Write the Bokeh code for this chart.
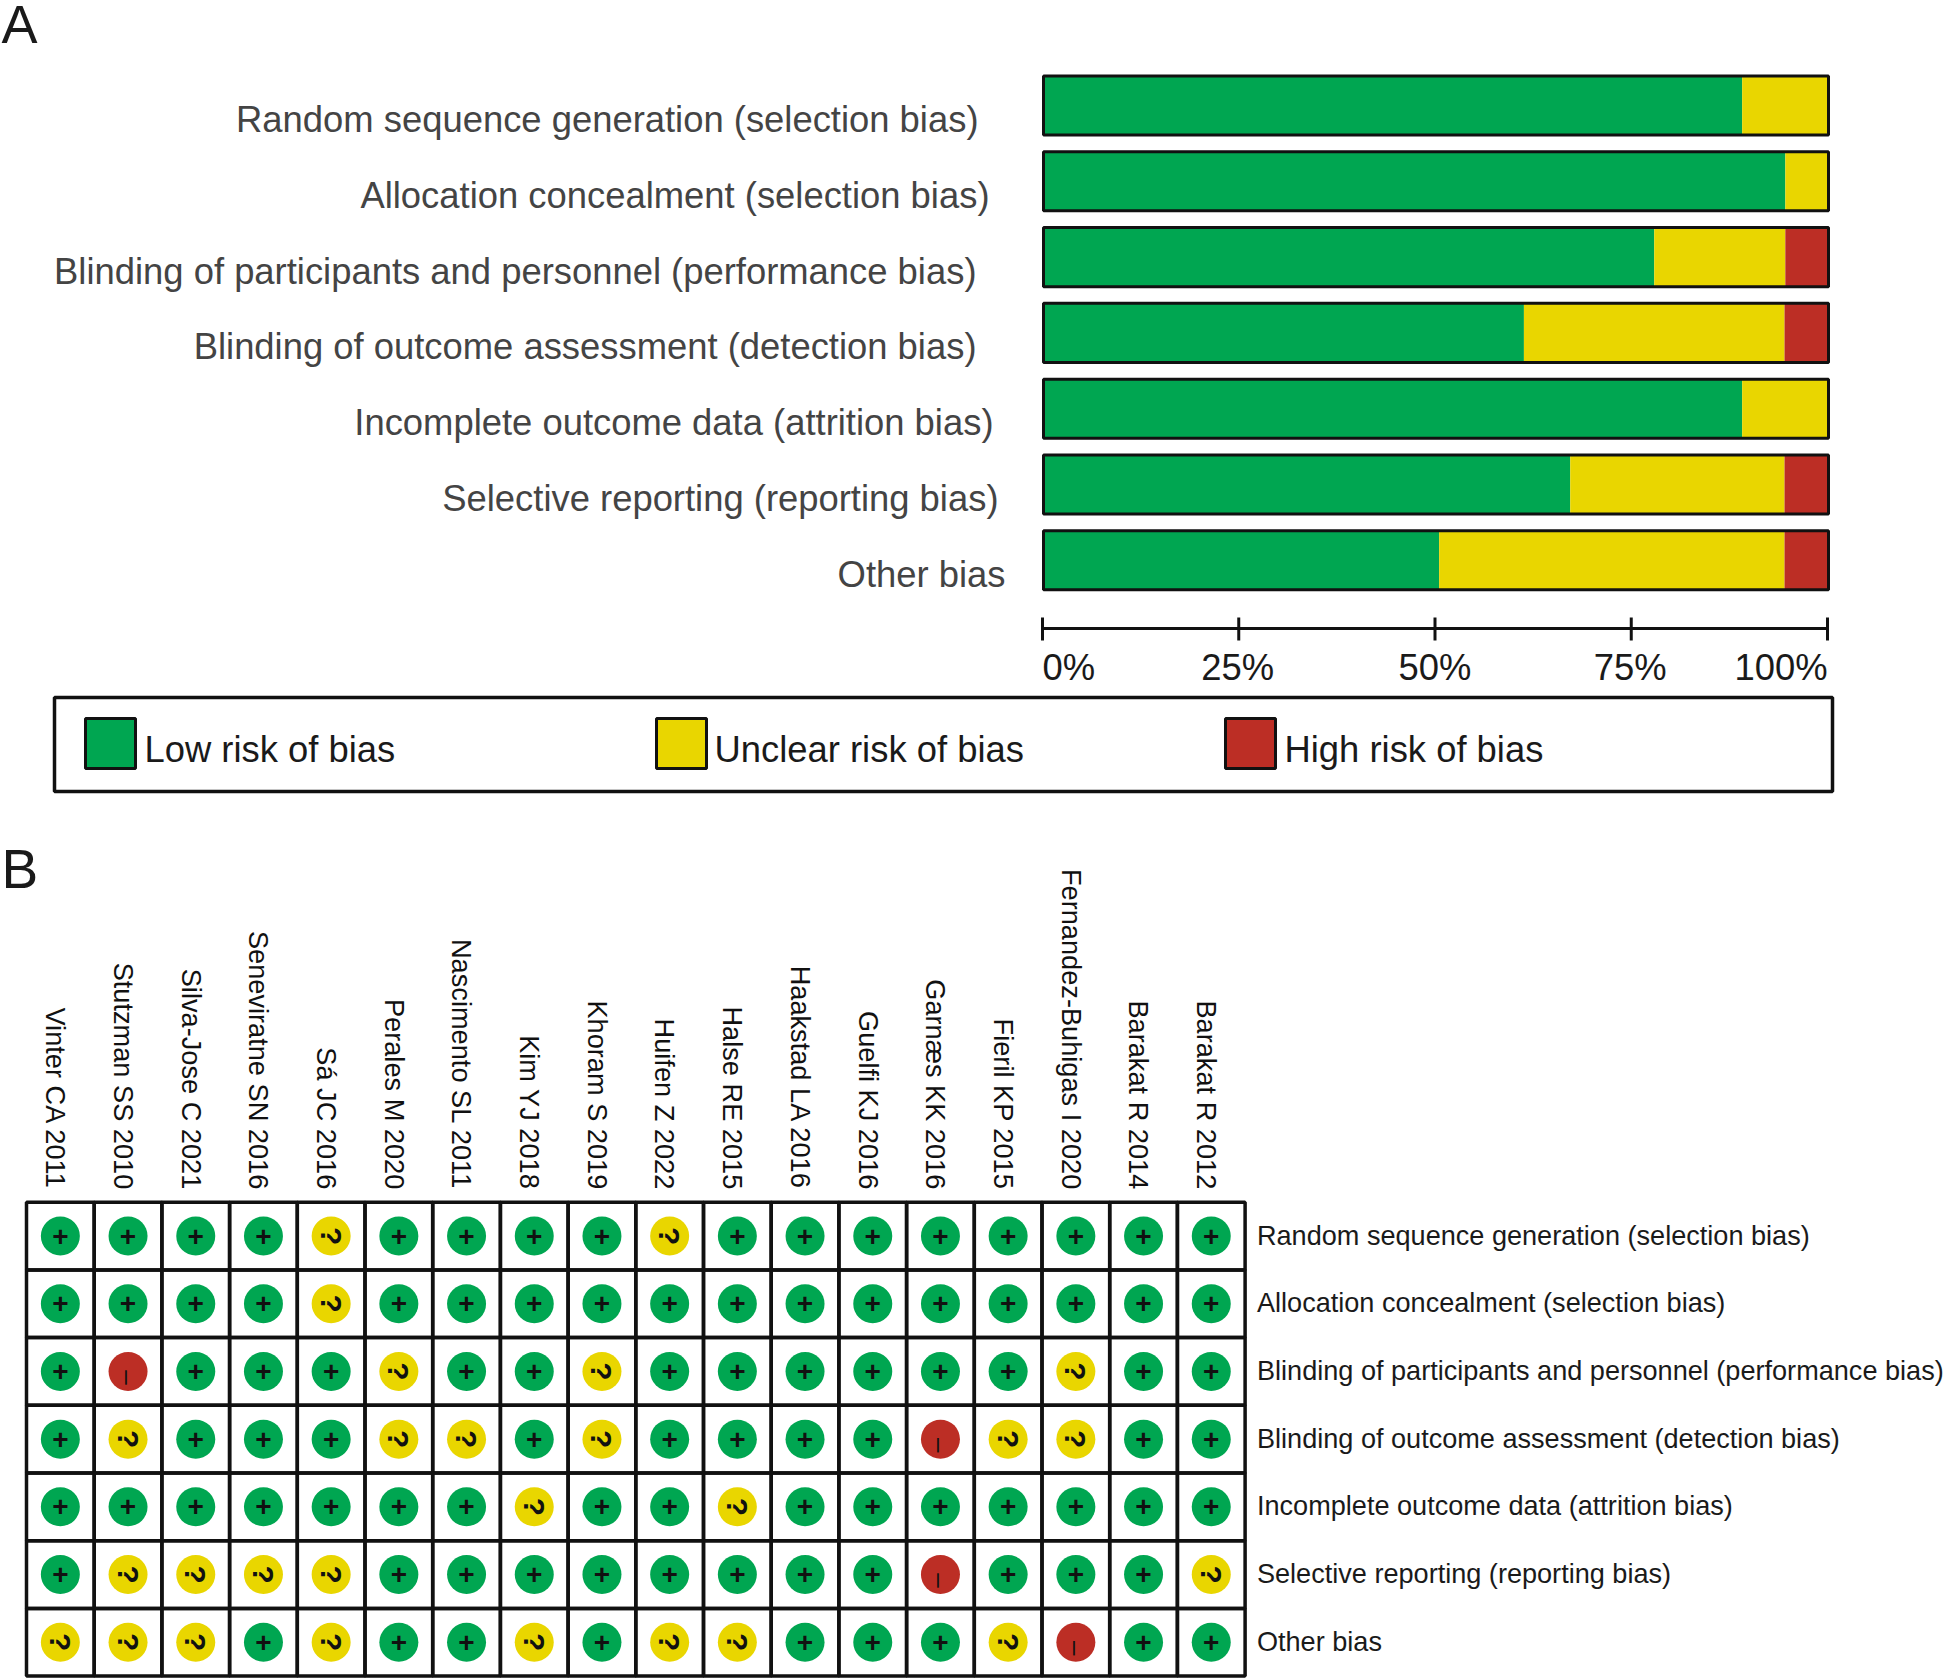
from math import pi
from bokeh.plotting import figure
from bokeh.models import Range1d
from bokeh.core.properties import value
from bokeh.embed import file_html
from bokeh.resources import INLINE

# ---------- data ----------
domains = ["Random sequence generation (selection bias)", "Allocation concealment (selection bias)",
           "Blinding of participants and personnel (performance bias)", "Blinding of outcome assessment (detection bias)",
           "Incomplete outcome data (attrition bias)", "Selective reporting (reporting bias)", "Other bias"]
low_pct = [89.0, 94.5, 77.8, 61.2, 89.0, 67.1, 50.4]
unclear_pct = [11.0, 5.5, 16.7, 33.2, 11.0, 27.3, 44.0]
high_pct = [0.0, 0.0, 5.5, 5.6, 0.0, 5.6, 5.6]
pct_ticks = [0, 25, 50, 75, 100]
pct_tick_labels = ["0%", "25%", "50%", "75%", "100%"]
legend_labels = ["Low risk of bias", "Unclear risk of bias", "High risk of bias"]
studies = ["Vinter CA 2011", "Stutzman SS 2010", "Silva-Jose C 2021", "Seneviratne SN 2016", "Sá JC 2016",
           "Perales M 2020", "Nascimento SL 2011", "Kim YJ 2018", "Khoram S 2019", "Huifen Z 2022", "Halse RE 2015",
           "Haakstad LA 2016", "Guelfi KJ 2016", "Garnæs KK 2016", "Fieril KP 2015", "Fernandez-Buhigas I 2020",
           "Barakat R 2014", "Barakat R 2012"]
judgements = [
    "++++?++++?++++++++",
    "++++?+++++++++++++",
    "+-+++?++?++++++?++",
    "+?+++??+?++++-??++",
    "+++++++?++?+++++++",
    "+????++++++++-+++?",
    "???+?++?+??+++?-++",
]

# ---------- style / layout (page pixels) ----------
GREEN, YELLOW, RED = "#00A651", "#E9D600", "#BC2E25"
FONT = value("Liberation Sans")
W, H = 1944, 1680
BX0, BX1 = 1043.0, 1828.0
AX0, AX1 = 1042.0, 1827.0
BY0, BDY, BH = 105.0, 75.8, 0.78
GX0, GDX = 26.0, 67.7
GY0, GDY = 1201.7, 67.7
label_right = [978, 989, 976, 976, 993, 998, 1005]

p = figure(width=W, height=H, output_backend="svg", toolbar_location=None,
           x_range=Range1d(0, W), y_range=Range1d(H, 0), min_border=0,
           outline_line_color=None)
p.xaxis.visible = False
p.yaxis.visible = False
p.grid.visible = False
p.background_fill_color = "white"
p.extra_x_ranges = {
    "pct": Range1d(-BX0 / (BX1 - BX0) * 100, (W - BX0) / (BX1 - BX0) * 100),
    "ax": Range1d(-AX0 / (AX1 - AX0) * 100, (W - AX0) / (AX1 - AX0) * 100),
    "col": Range1d(-GX0 / GDX, (W - GX0) / GDX),
}
p.extra_y_ranges = {
    "bar": Range1d((H - BY0) / BDY, -BY0 / BDY),
    "row": Range1d((H - GY0) / GDY, -GY0 / GDY),
}

# ---------- panel A ----------
rows = list(range(len(domains)))
left = [0.0] * len(rows)
for vals, col in ((low_pct, GREEN), (unclear_pct, YELLOW), (high_pct, RED)):
    right = [a + b for a, b in zip(left, vals)]
    p.hbar(y=rows, left=left, right=right, height=BH, fill_color=col, line_color=None,
           x_range_name="pct", y_range_name="bar")
    left = right
p.hbar(y=rows, left=[0] * len(rows), right=[100] * len(rows), height=BH, fill_color=None,
       line_color="#111111", line_width=3, x_range_name="pct", y_range_name="bar")
p.text(x=label_right, y=[r * BDY + BY0 + 14 for r in rows], text=domains, text_font=FONT,
       text_font_size="36.4px", text_color="#444444", text_align="right", text_baseline="middle")

AX_Y = 628.0
p.segment(x0=[0], x1=[100], y0=[AX_Y], y1=[AX_Y], line_color="#111111", line_width=3, x_range_name="ax")
p.segment(x0=pct_ticks, x1=pct_ticks, y0=[617] * 5, y1=[640] * 5, line_color="#111111", line_width=3,
          x_range_name="ax")
for v, t, al, xo in zip(pct_ticks, pct_tick_labels, ("left", "center", "center", "center", "right"),
                        (0, -1, 0, -1, 0)):
    p.text(x=[v], y=[667], text=[t], text_font=FONT, text_font_size="36.4px", text_color="#1a1a1a",
           text_align=al, text_baseline="middle", x_offset=xo, x_range_name="ax")
p.quad(left=[54], right=[1832], top=[697], bottom=[791], fill_color=None, line_color="#111111", line_width=3.5)
for x, col, lab, tx in zip((85, 656, 1225), (GREEN, YELLOW, RED), legend_labels, (144, 714, 1284)):
    p.quad(left=[x], right=[x + 50], top=[718], bottom=[768], fill_color=col, line_color="#111111", line_width=3)
    p.text(x=[tx], y=[749], text=[lab], text_font=FONT, text_font_size="36.4px", text_color="#1a1a1a",
           text_align="left", text_baseline="middle")
p.text(x=[1], y=[23], text=["A"], text_font=FONT, text_font_size="54px", text_color="#1a1a1a",
       text_align="left", text_baseline="middle")
p.text(x=[1], y=[868], text=["B"], text_font=FONT, text_font_size="55px", text_color="#1a1a1a",
       text_align="left", text_baseline="alphabetic")

# ---------- panel B ----------
cx, cy, col_c, sym_plus, sym_q, sym_m = [], [], [], [], [], []
for r, row in enumerate(judgements):
    for c, j in enumerate(row):
        cx.append(c + .5); cy.append(r + .5)
        col_c.append({"+": GREEN, "?": YELLOW, "-": RED}[j])
        {"+": sym_plus, "?": sym_q, "-": sym_m}[j].append((c + .5, r + .5))
p.quad(left=[c for r in range(7) for c in range(18)], right=[c + 1 for r in range(7) for c in range(18)],
       top=[r for r in range(7) for c in range(18)], bottom=[r + 1 for r in range(7) for c in range(18)],
       fill_color=None, line_color="#111111", line_width=3.5, x_range_name="col", y_range_name="row")
p.scatter(x=cx, y=cy, size=39, fill_color=col_c, line_color=None, x_range_name="col", y_range_name="row")
for pts, txt, ang, size, xo, yo, st in ((sym_plus, "+", 0, "28px", 0, 0, "bold"),
                                        (sym_q, "?", -pi / 2, "30px", 0, 0, "bold"),
                                        (sym_m, "–", -pi / 2, "26px", 0, 6, "normal")):
    p.text(x=[a for a, b in pts], y=[b for a, b in pts], text=[txt] * len(pts), angle=ang, text_font=FONT,
           text_font_size=size, text_font_style=st, text_color="#111111", text_align="center",
           text_baseline="middle", x_offset=xo, y_offset=yo, x_range_name="col", y_range_name="row")
p.text(x=[c + .5 - .07 for c in range(18)], y=[-0.19] * 18, text=studies, angle=-pi / 2, text_font=FONT,
       text_font_size="27.2px", text_color="#111111", text_align="right", text_baseline="middle",
       x_range_name="col", y_range_name="row")
p.text(x=[18.175] * 7, y=[r + .485 for r in range(7)], text=domains, text_font=FONT, text_font_size="27.1px",
       text_color="#1a1a1a", text_align="left", text_baseline="middle", x_range_name="col", y_range_name="row")

open("out.html", "w").write(file_html(p, INLINE))
